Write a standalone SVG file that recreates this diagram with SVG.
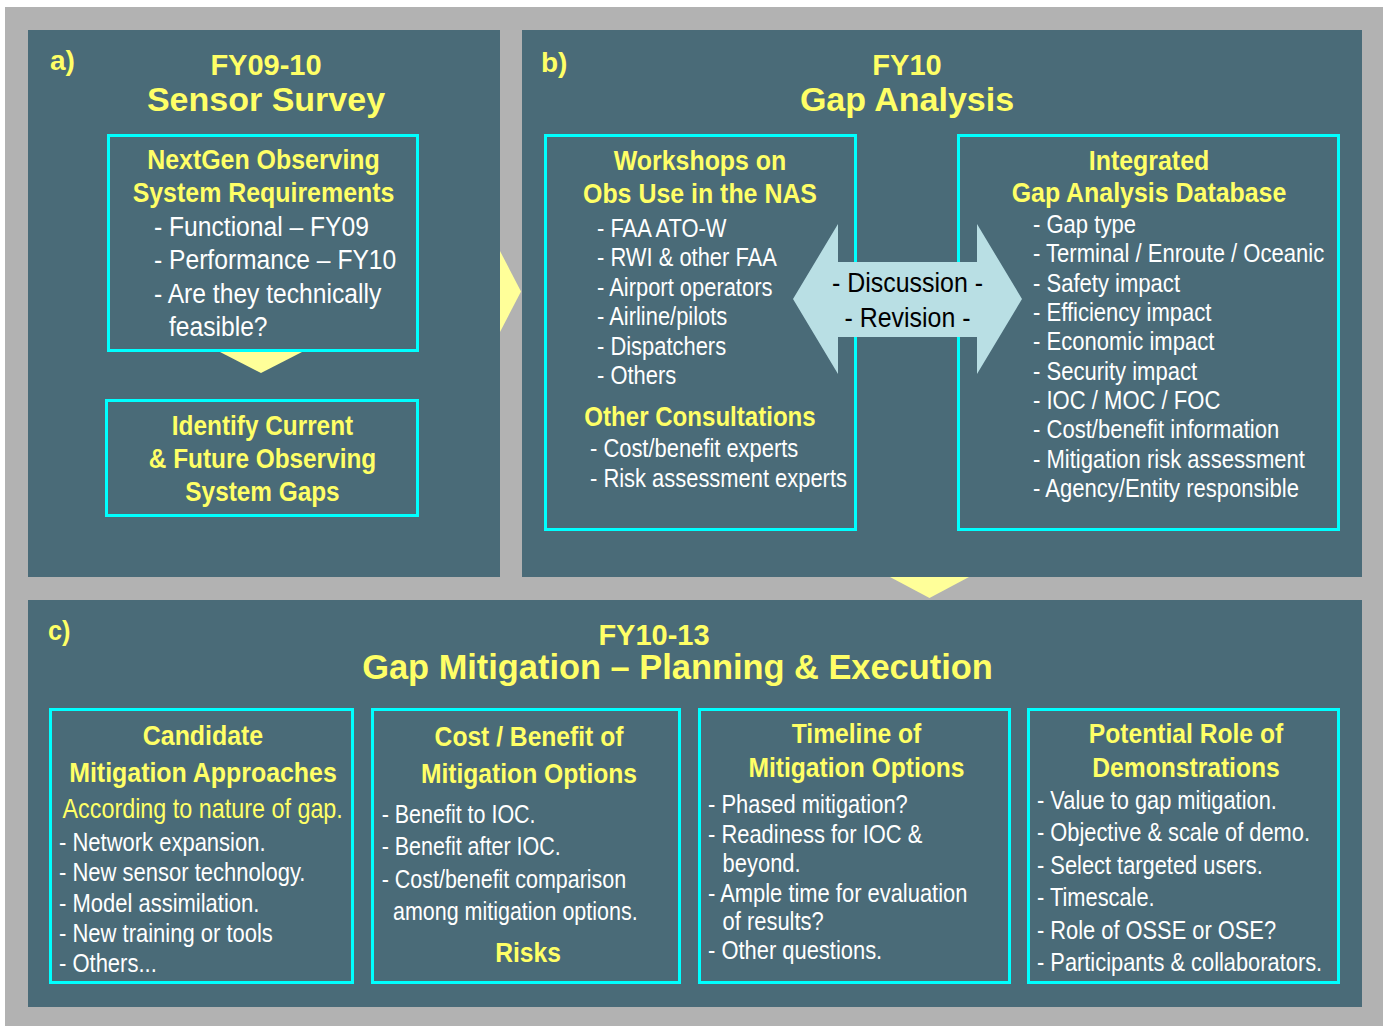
<svg xmlns="http://www.w3.org/2000/svg" width="1383" height="1026" viewBox="0 0 1383 1026">
<style>
text{font-family:"Liberation Sans",Arial,sans-serif}
.panel{fill:#4a6b78}
.box{fill:none;stroke:#00ffff;stroke-width:3}
.ttl{fill:#ffff66;font-weight:bold}
.hd{fill:#ffff66;font-weight:bold;font-size:28px}
.yl{fill:#ffff66}
.wt{fill:#ffffff}
.mid{text-anchor:middle}
.chev{fill:#ffff99}
.dbl{fill:#b9dfe4}
</style>
<rect x="5" y="7" width="1378" height="1019" fill="#b2b2b2"/>
<g id="panel-a">
<rect class="panel" x="28" y="30" width="472" height="547"/>
<text class="ttl" x="50" y="69.5" font-size="28">a)</text>
<text class="ttl mid" x="266" y="75" font-size="29">FY09-10</text>
<text class="ttl mid" x="266" y="111" font-size="34">Sensor Survey</text>
</g>
<g id="panel-b">
<rect class="panel" x="522" y="30" width="840" height="547"/>
<text class="ttl" x="541" y="72" font-size="28">b)</text>
<text class="ttl mid" x="907" y="75" font-size="29">FY10</text>
<text class="ttl mid" x="907" y="111" font-size="34">Gap Analysis</text>
</g>
<g id="panel-c">
<rect class="panel" x="28" y="600" width="1334" height="407"/>
<text class="ttl" transform="matrix(0.9 0 0 1 48 0)" x="0" y="640" font-size="28">c)</text>
<text class="ttl mid" x="654" y="645" font-size="29">FY10-13</text>
<text class="ttl mid" x="677.5" y="679" font-size="34.4">Gap Mitigation – Planning &amp; Execution</text>
</g>
<g id="node-requirements">
<rect class="box" x="108.5" y="135.5" width="309" height="215"/>
<text class="hd mid" transform="matrix(0.89 0 0 1 263.5 0)"><tspan x="0" y="169">NextGen Observing</tspan><tspan x="0" y="202">System Requirements</tspan></text>
<text class="wt" font-size="28" transform="matrix(0.88 0 0 1 154 0)"><tspan x="0" y="236">- Functional – FY09</tspan><tspan x="0" y="269.5">- Performance – FY10</tspan><tspan x="0" y="303">- Are they technically</tspan><tspan x="17" y="336.5">feasible?</tspan></text>
</g>
<g id="node-gaps">
<rect class="box" x="106.5" y="400.5" width="311" height="115"/>
<text class="hd mid" transform="matrix(0.87 0 0 1 262.5 0)"><tspan x="0" y="435">Identify Current</tspan><tspan x="0" y="468">&amp; Future Observing</tspan><tspan x="0" y="501.5">System Gaps</tspan></text>
</g>
<g id="node-workshops">
<rect class="box" x="545.5" y="135.5" width="310" height="394"/>
<text class="hd mid" transform="matrix(0.89 0 0 1 700 0)"><tspan x="0" y="170">Workshops on</tspan><tspan x="0" y="203">Obs Use in the NAS</tspan></text>
<text class="wt" font-size="25.5" transform="matrix(0.86 0 0 1 597 0)"><tspan x="0" y="237">- FAA ATO-W</tspan><tspan x="0" y="266.5">- RWI &amp; other FAA</tspan><tspan x="0" y="296">- Airport operators</tspan><tspan x="0" y="325.5">- Airline/pilots</tspan><tspan x="0" y="355">- Dispatchers</tspan><tspan x="0" y="384">- Others</tspan></text>
<text class="hd mid" transform="matrix(0.86 0 0 1 700 0)" x="0" y="426">Other Consultations</text>
<text class="wt" font-size="25.5" transform="matrix(0.86 0 0 1 590 0)"><tspan x="0" y="457">- Cost/benefit experts</tspan><tspan x="0" y="487">- Risk assessment experts</tspan></text>
</g>
<g id="node-database">
<rect class="box" x="958.5" y="135.5" width="380" height="394"/>
<text class="hd mid" transform="matrix(0.89 0 0 1 1149 0)"><tspan x="0" y="170">Integrated</tspan><tspan x="0" y="202">Gap Analysis Database</tspan></text>
<text class="wt" font-size="25.5" transform="matrix(0.865 0 0 1 1033 0)"><tspan x="0" y="233">- Gap type</tspan><tspan x="0" y="262.3">- Terminal / Enroute / Oceanic</tspan><tspan x="0" y="291.7">- Safety impact</tspan><tspan x="0" y="321">- Efficiency impact</tspan><tspan x="0" y="350.3">- Economic impact</tspan><tspan x="0" y="379.7">- Security impact</tspan><tspan x="0" y="409">- IOC / MOC / FOC</tspan><tspan x="0" y="438.3">- Cost/benefit information</tspan><tspan x="0" y="467.7">- Mitigation risk assessment</tspan><tspan x="0" y="497">- Agency/Entity responsible</tspan></text>
</g>
<g id="node-candidate">
<rect class="box" x="50.5" y="709.5" width="302" height="273"/>
<text class="hd mid" transform="matrix(0.89 0 0 1 203 0)"><tspan x="0" y="745">Candidate</tspan><tspan x="0" y="782">Mitigation Approaches</tspan></text>
<text class="yl" font-size="27" transform="matrix(0.865 0 0 1 62.5 0)" x="0" y="818">According to nature of gap.</text>
<text class="wt" font-size="26.5" transform="matrix(0.83 0 0 1 59 0)"><tspan x="0" y="851">- Network expansion.</tspan><tspan x="0" y="881">- New sensor technology.</tspan><tspan x="0" y="912">- Model assimilation.</tspan><tspan x="0" y="942">- New training or tools</tspan><tspan x="0" y="972">- Others...</tspan></text>
</g>
<g id="node-costbenefit">
<rect class="box" x="372.5" y="709.5" width="307" height="273"/>
<text class="hd mid" transform="matrix(0.88 0 0 1 529 0)"><tspan x="0" y="746">Cost / Benefit of</tspan><tspan x="0" y="783">Mitigation Options</tspan></text>
<text class="wt" font-size="26.5" transform="matrix(0.81 0 0 1 381.7 0)"><tspan x="0" y="823">- Benefit to IOC.</tspan><tspan x="0" y="855">- Benefit after IOC.</tspan><tspan x="0" y="888">- Cost/benefit comparison</tspan><tspan x="14" y="920">among mitigation options.</tspan></text>
<text class="hd mid" transform="matrix(0.88 0 0 1 528 0)" x="0" y="962">Risks</text>
</g>
<g id="node-timeline">
<rect class="box" x="699.5" y="709.5" width="310" height="273"/>
<text class="hd mid" transform="matrix(0.88 0 0 1 856.5 0)"><tspan x="0" y="743">Timeline of</tspan><tspan x="0" y="777">Mitigation Options</tspan></text>
<text class="wt" font-size="25.5" transform="matrix(0.86 0 0 1 708 0)"><tspan x="0" y="813">- Phased mitigation?</tspan><tspan x="0" y="843">- Readiness for IOC &amp;</tspan><tspan x="17" y="872">beyond.</tspan><tspan x="0" y="902">- Ample time for evaluation</tspan><tspan x="17" y="930">of results?</tspan><tspan x="0" y="959">- Other questions.</tspan></text>
</g>
<g id="node-demonstrations">
<rect class="box" x="1028.5" y="709.5" width="310" height="273"/>
<text class="hd mid" transform="matrix(0.88 0 0 1 1186 0)"><tspan x="0" y="743">Potential Role of</tspan><tspan x="0" y="777">Demonstrations</tspan></text>
<text class="wt" font-size="26" transform="matrix(0.84 0 0 1 1037 0)"><tspan x="0" y="809">- Value to gap mitigation.</tspan><tspan x="0" y="841.5">- Objective &amp; scale of demo.</tspan><tspan x="0" y="874">- Select targeted users.</tspan><tspan x="0" y="906.5">- Timescale.</tspan><tspan x="0" y="939">- Role of OSSE or OSE?</tspan><tspan x="0" y="971.5">- Participants &amp; collaborators.</tspan></text>
</g>
<g id="connectors">
<polygon class="chev" points="220,352 302,352 261,373"/>
<polygon class="chev" points="500,251 521,291.5 500,332"/>
<polygon class="chev" points="890,577 969,577 929.5,598"/>
<polygon class="dbl" points="793,299 838,224 838,262 977,262 977,224 1022,299 977,374 977,337 838,337 838,374"/>
<text font-size="28.5" fill="#000" class="mid" transform="matrix(0.875 0 0 1 907.5 0)"><tspan x="0" y="292.5">- Discussion -</tspan><tspan x="0" y="327">- Revision -</tspan></text>
</g>
</svg>
